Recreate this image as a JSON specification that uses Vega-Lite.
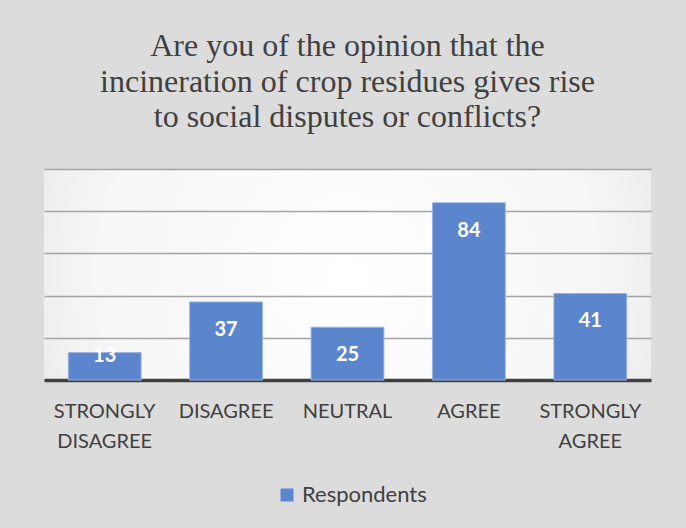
{
  "$schema": "https://vega.github.io/schema/vega-lite/v6.json",
  "width": 607,
  "height": 211,
  "autosize": {"type": "none"},
  "padding": {"left": 44, "top": 169, "right": 35, "bottom": 148},
  "background": "#dcdcdc",
  "title": {
    "text": ["Are you of the opinion that the", "incineration of crop residues gives rise", "to social disputes or conflicts?"],
    "font": "Liberation Serif",
    "fontSize": 32,
    "fontWeight": "normal",
    "color": "#404040",
    "lineHeight": 35.5,
    "anchor": "middle",
    "offset": 35
  },
  "data": {
    "values": [
      {"category": "STRONGLY DISAGREE", "value": 13},
      {"category": "DISAGREE", "value": 37},
      {"category": "NEUTRAL", "value": 25},
      {"category": "AGREE", "value": 84},
      {"category": "STRONGLY AGREE", "value": 41}
    ]
  },
  "encoding": {
    "x": {
      "field": "category",
      "type": "nominal",
      "sort": null,
      "title": null,
      "scale": {"paddingInner": 0.4, "paddingOuter": 0.2},
      "axis": {
        "labelAngle": 0,
        "labelExpr": "split(datum.label, ' ')",
        "labelFont": "Lato",
        "labelFontSize": 20,
        "labelColor": "#404040",
        "labelLineHeight": 30,
        "labelPadding": 21,
        "ticks": false,
        "domainColor": "#404040",
        "domainWidth": 3.5,
        "grid": false
      }
    },
    "y": {
      "field": "value",
      "type": "quantitative",
      "title": null,
      "scale": {"domain": [0, 100], "nice": false},
      "axis": {
        "values": [20, 40, 60, 80, 100],
        "labels": false,
        "ticks": false,
        "domain": false,
        "grid": true,
        "gridColor": "#a4a4a4",
        "gridWidth": 1.3
      }
    }
  },
  "layer": [
    {
      "mark": {"type": "bar", "stroke": "#9bb5e2", "strokeWidth": 1},
      "encoding": {
        "color": {
          "datum": "Respondents",
          "type": "nominal",
          "scale": {"range": ["#5b86cd"]},
          "legend": {
            "title": null,
            "orient": "none",
            "legendX": 232,
            "legendY": 315,
            "symbolType": "square",
            "symbolSize": 169,
            "symbolStrokeWidth": 0,
            "labelFont": "Lato",
            "labelFontSize": 22,
            "labelColor": "#404040"
          }
        }
      }
    },
    {
      "transform": [{"filter": "datum.value >= 20"}],
      "mark": {"type": "text", "baseline": "middle", "dy": 28, "font": "Lato", "fontWeight": "bold", "fontSize": 20, "color": "white"},
      "encoding": {"text": {"field": "value", "type": "quantitative"}}
    },
    {
      "transform": [{"filter": "datum.value < 20"}],
      "mark": {"type": "text", "baseline": "middle", "dy": 3, "font": "Lato", "fontWeight": "bold", "fontSize": 20, "color": "white"},
      "encoding": {"text": {"field": "value", "type": "quantitative"}}
    }
  ],
  "config": {
    "view": {
      "stroke": null,
      "fill": {
        "gradient": "radial",
        "x1": 0.5, "y1": 0.5, "x2": 0.5, "y2": 0.5, "r1": 0, "r2": 0.75,
        "stops": [
          {"offset": 0, "color": "#ffffff"},
          {"offset": 0.55, "color": "#f6f6f6"},
          {"offset": 1, "color": "#dcdcdc"}
        ]
      }
    }
  }
}
